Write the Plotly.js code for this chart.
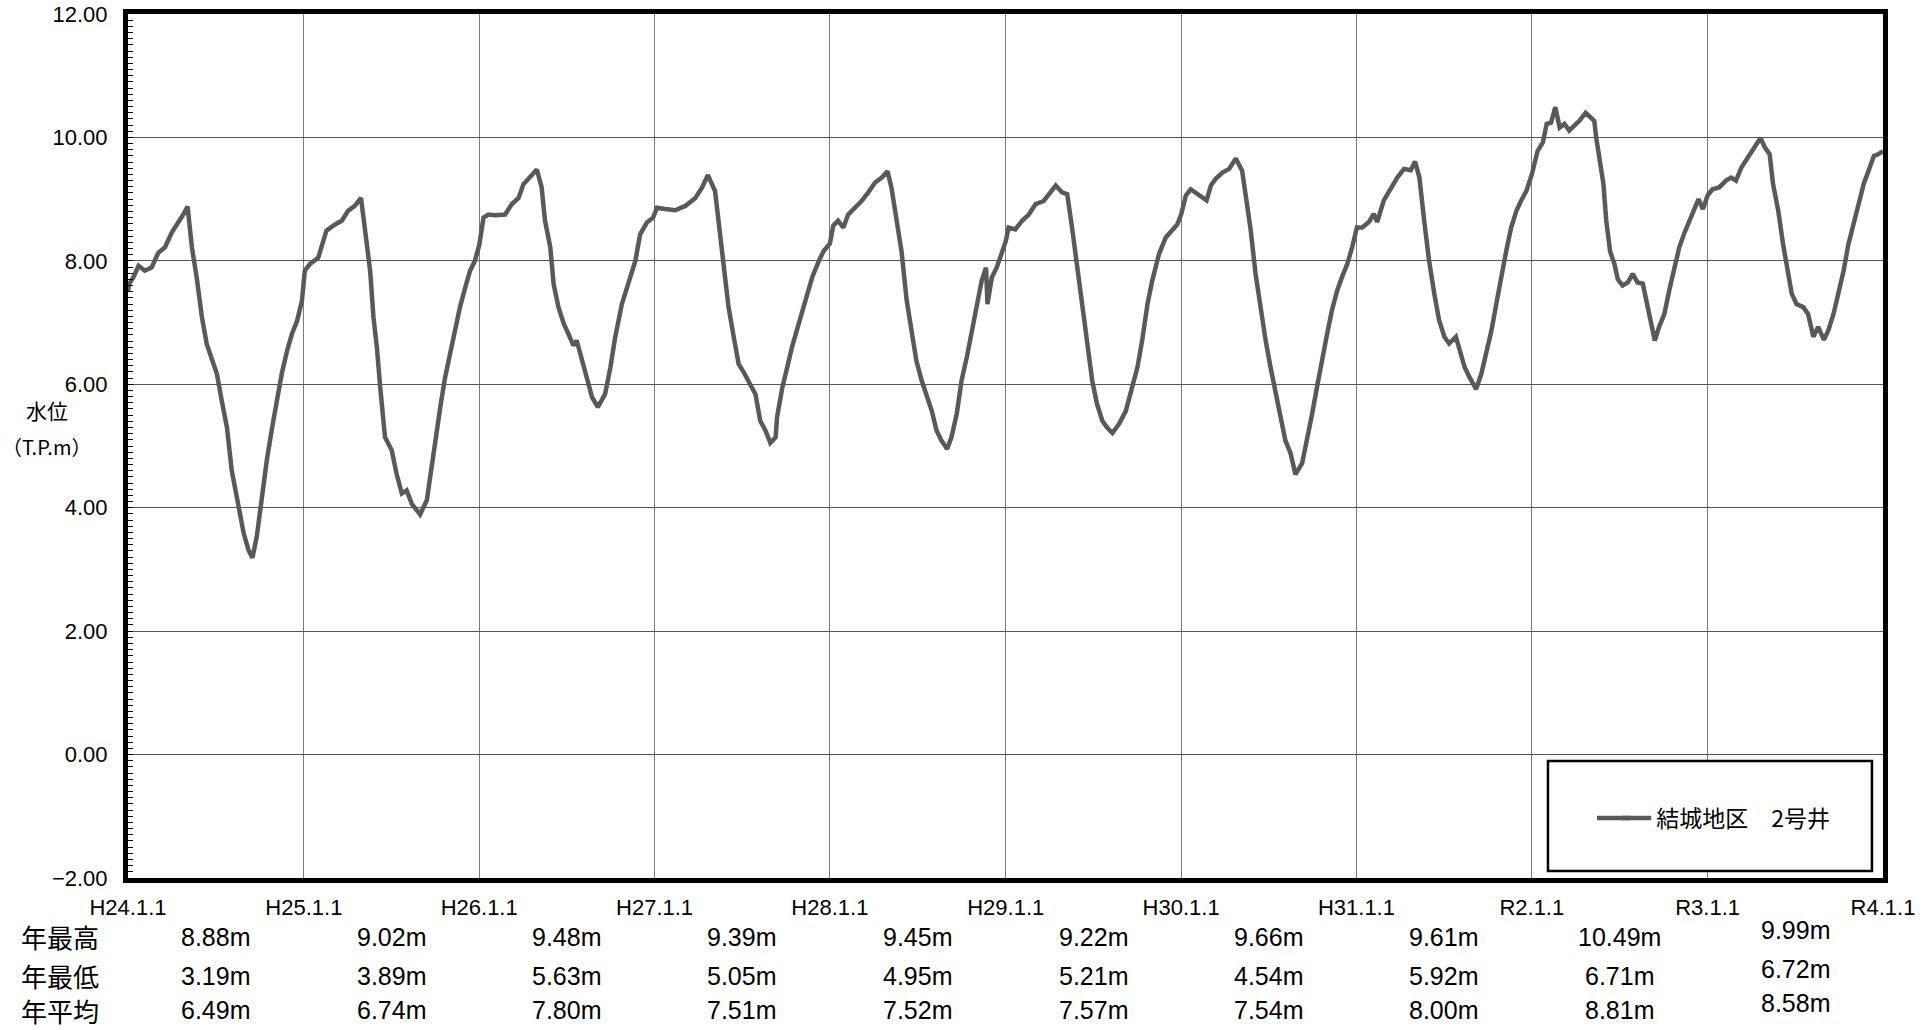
<!DOCTYPE html>
<html>
<head>
<meta charset="utf-8">
<script src="https://cdn.plot.ly/plotly-3.0.1.min.js"></script>
<style>
html,body{margin:0;padding:0;background:#fff;}
#chart{width:1927px;height:1030px;}
</style>
</head>
<body>
<div id="chart"></div>
<script>
// ---- data (day of year, water level T.P.m) ----
const doy2012 = [0,2,11,22,35,49,63,77,91,105,115,124,133,143,154,164,174,185,195,206,216,230,241,251,259,268,279,289,300,310,320,331,341,352,362];
const lvl2012 = [7.50,7.62,7.73,7.92,7.84,7.89,8.13,8.22,8.46,8.62,8.75,8.88,8.22,7.73,7.08,6.65,6.44,6.17,5.74,5.30,4.60,4.01,3.58,3.31,3.19,3.53,4.23,4.77,5.30,5.74,6.17,6.54,6.81,7.03,7.35];
const doy2013 = [2,13,30,47,65,79,92,106,119,127,138,145,152,159,169,183,193,204,214,225,242,256,263,273,284,294,304,315,325,336,346,356];
const lvl2013 = [7.84,7.95,8.05,8.49,8.59,8.65,8.81,8.89,9.02,8.54,7.84,7.08,6.60,5.95,5.14,4.93,4.55,4.23,4.28,4.06,3.89,4.12,4.50,5.14,5.63,6.11,6.49,6.87,7.25,7.57,7.84,8.00];
const doy2014 = [0,9,19,33,54,68,82,92,106,120,130,137,148,155,165,176,186,196,203,214,224,235,247,262,273,283,297,311,325,335,349,362];
const lvl2014 = [8.25,8.70,8.75,8.74,8.75,8.92,9.02,9.24,9.37,9.48,9.19,8.65,8.22,7.62,7.25,6.98,6.81,6.63,6.71,6.38,6.11,5.79,5.63,5.84,6.27,6.76,7.30,7.68,8.00,8.43,8.62,8.70];
const doy2015 = [5,22,43,64,85,99,111,126,133,144,154,165,175,186,199,210,220,231,241,252,255,266,276,286,300,314,328,342,352];
const lvl2015 = [8.86,8.84,8.82,8.89,9.02,9.19,9.39,9.13,8.65,7.89,7.25,6.76,6.33,6.19,6.01,5.84,5.41,5.25,5.05,5.14,5.47,5.95,6.27,6.60,6.98,7.35,7.73,8.00,8.16];
const doy2016 = [0,7,17,28,38,52,66,80,94,108,120,128,135,149,160,170,180,191,201,212,222,232,244,253,264,274,285,295,305,316,325,328,337,347,357];
const lvl2016 = [8.28,8.57,8.65,8.54,8.75,8.86,8.97,9.11,9.27,9.35,9.45,9.19,8.81,8.16,7.35,6.81,6.38,6.06,5.84,5.57,5.25,5.09,4.95,5.14,5.52,6.06,6.44,6.87,7.25,7.68,7.89,7.30,7.73,7.89,8.11];
const doy2017 = [0,6,20,34,48,62,79,93,104,117,128,138,149,159,170,180,190,201,211,222,236,250,263,274,284,295,305,319,333,347,357];
const lvl2017 = [8.32,8.54,8.51,8.65,8.75,8.92,8.97,9.11,9.22,9.11,9.08,8.54,7.89,7.25,6.60,6.06,5.68,5.41,5.30,5.21,5.36,5.57,5.95,6.27,6.71,7.30,7.68,8.11,8.38,8.49,8.59];
const doy2018 = [0,10,20,30,41,53,62,72,86,100,114,127,136,145,155,166,176,186,197,207,217,228,238,252,262,273,283,294,304,314,325,335,346,356];
const lvl2018 = [8.75,9.06,9.16,9.11,9.06,8.98,9.22,9.33,9.43,9.49,9.66,9.46,8.98,8.49,7.79,7.20,6.71,6.28,5.85,5.47,5.09,4.88,4.54,4.72,5.09,5.53,5.96,6.44,6.82,7.20,7.52,7.74,7.95,8.22];
const doy2019 = [1,12,26,36,43,57,71,85,99,113,122,131,141,151,162,172,183,193,207,218,225,235,249,260,270,281,291,302,312,322,333,343,354];
const lvl2019 = [8.54,8.54,8.63,8.76,8.63,8.98,9.16,9.35,9.49,9.47,9.61,9.35,8.65,8.01,7.47,7.04,6.77,6.66,6.77,6.50,6.28,6.12,5.92,6.17,6.50,6.87,7.30,7.79,8.17,8.54,8.81,8.98,9.14];
const doy2020 = [0,12,23,31,40,49,58,68,78,89,99,112,123,130,134,141,149,155,163,172,179,189,200,210,220,231,238,248,256,265,276,286,297,307,317,328,338,347,356];
const lvl2020 = [9.40,9.78,9.92,10.22,10.24,10.49,10.16,10.22,10.11,10.19,10.27,10.40,10.32,10.27,10.00,9.62,9.25,8.65,8.15,7.95,7.70,7.60,7.65,7.79,7.65,7.63,7.36,6.93,6.71,6.93,7.14,7.52,7.90,8.22,8.44,8.65,8.81,9.00,8.84];
const doy2021 = [0,10,24,38,49,59,70,84,98,110,119,129,136,147,157,164,175,185,199,209,220,230,242,251,262,272,283,293,304,314,325,335,346,356,365];
const lvl2021 = [9.06,9.16,9.19,9.30,9.35,9.30,9.51,9.68,9.84,9.99,9.84,9.73,9.25,8.81,8.27,7.95,7.47,7.30,7.25,7.14,6.77,6.93,6.72,6.87,7.14,7.47,7.84,8.27,8.60,8.92,9.25,9.46,9.70,9.73,9.78];

const tickDates  = ['2012-01-01','2013-01-01','2014-01-01','2015-01-01','2016-01-01','2017-01-01','2018-01-01','2019-01-01','2020-01-01','2021-01-01','2022-01-01'];
const tickLabels = ['H24.1.1','H25.1.1','H26.1.1','H27.1.1','H28.1.1','H29.1.1','H30.1.1','H31.1.1','R2.1.1','R3.1.1','R4.1.1'];
const midYearDates = ['2012-07-02','2013-07-02','2014-07-02','2015-07-02','2016-07-02','2017-07-02','2018-07-02','2019-07-02','2020-07-02','2021-07-02'];

const annualMax = [8.88,9.02,9.48,9.39,9.45,9.22,9.66,9.61,10.49,9.99];
const annualMin = [3.19,3.89,5.63,5.05,4.95,5.21,4.54,5.92,6.71,6.72];
const annualAvg = [6.49,6.74,7.80,7.51,7.52,7.57,7.54,8.00,8.81,8.58];
const rowLabels = ['年最高','年最低','年平均'];
const seriesName = '結城地区　2号井';

// ---- build series ----
const yearly = [
  [2012,doy2012,lvl2012],[2013,doy2013,lvl2013],[2014,doy2014,lvl2014],[2015,doy2015,lvl2015],
  [2016,doy2016,lvl2016],[2017,doy2017,lvl2017],[2018,doy2018,lvl2018],[2019,doy2019,lvl2019],
  [2020,doy2020,lvl2020],[2021,doy2021,lvl2021]
];
function toDate(y,d){
  const t = Date.UTC(y,0,1) + d*86400000;
  return new Date(t).toISOString().slice(0,10);
}
const xs=[], ys=[];
yearly.forEach(([yr,ds,vs])=>{ ds.forEach((d,i)=>{ xs.push(toDate(yr,d)); ys.push(vs[i]); }); });

const lineColor = '#595959';
const trace = {
  x: xs, y: ys, type: 'scatter', mode: 'lines', name: seriesName,
  line: {color: lineColor, width: 4.5}
};

const jp = '"Noto Sans CJK JP", sans-serif';
const narrow = '"Liberation Sans Narrow", "Liberation Sans", Arial, sans-serif';

const annotations = [];
const rowsY = [-0.068, -0.1134, -0.1530];
const tables = [annualMax, annualMin, annualAvg];
rowLabels.forEach((lab,r)=>{
  annotations.push({xref:'paper',yref:'paper',x:-0.0385,y:rowsY[r],text:lab,showarrow:false,
    xanchor:'center',yanchor:'middle',font:{family:jp,size:26,color:'#000'}});
  tables[r].forEach((v,i)=>{
    annotations.push({xref:'x',yref:'paper',x:midYearDates[i],y:rowsY[r],text:v.toFixed(2)+'m',showarrow:false,
      xanchor:'center',yanchor:'middle',yshift:(i===9?7:0),font:{family:narrow,size:25,color:'#000'}});
  });
});
annotations.push({xref:'paper',yref:'paper',x:-0.0462,y:0.5417,text:'水位',showarrow:false,
  xanchor:'center',yanchor:'middle',font:{family:jp,size:21,color:'#000'}});
annotations.push({xref:'paper',yref:'paper',x:-0.0462,y:0.500,text:'（T.P.m）',showarrow:false,
  xanchor:'center',yanchor:'middle',font:{family:jp,size:20,color:'#000'}});

const layout = {
  width: 1927, height: 1030,
  margin: {l:128, r:44, t:14, b:152, pad:0},
  paper_bgcolor: '#fff', plot_bgcolor: '#fff',
  showlegend: true,
  legend: {x:0.848, y:0.0694, xanchor:'left', yanchor:'middle', bgcolor:'rgba(0,0,0,0)',
    font:{family:jp,size:23,color:'#000'}, borderwidth:0},
  xaxis: {
    type:'date', range:['2012-01-01','2022-01-01'],
    tickvals: tickDates, ticktext: tickLabels, tickmode:'array',
    showgrid:true, gridcolor:'#7a7a7a', gridwidth:1,
    showline:true, linecolor:'#000', linewidth:5, mirror:true,
    ticks:'', tickfont:{family:narrow,size:22,color:'#000'},
    ticklabelstandoff: 6,
    zeroline:false
  },
  yaxis: {
    range:[-2,12], dtick:2, tick0:0, tickformat:'.2f',
    showgrid:true, gridcolor:'#555', gridwidth:1,
    showline:true, linecolor:'#000', linewidth:5, mirror:true,
    ticks:'inside', ticklen:5, tickcolor:'#000', tickwidth:1,
    minor:{dtick:0.1, ticks:'inside', ticklen:5, tickcolor:'#000', tickwidth:1, showgrid:false},
    tickfont:{family:'"Liberation Sans", Arial, sans-serif',size:22,color:'#000'},
    ticklabelstandoff: 11,
    zeroline:false
  },
  shapes: [
    {type:'rect', xref:'paper', yref:'paper', x0:0.8091, x1:0.9937, y0:0.0081, y1:0.1354,
      line:{color:'#000', width:2.5}, fillcolor:'#fff', layer:'above'},
    {type:'line', xref:'paper', yref:'paper', x0:0.8370, x1:0.8560, y0:0.0694, y1:0.0694,
      line:{color:lineColor, width:4.5}, layer:'above'}
  ],
  annotations: annotations
};

Plotly.newPlot('chart', [trace], layout, {displayModeBar:false, staticPlot:true});
</script>
</body>
</html>
